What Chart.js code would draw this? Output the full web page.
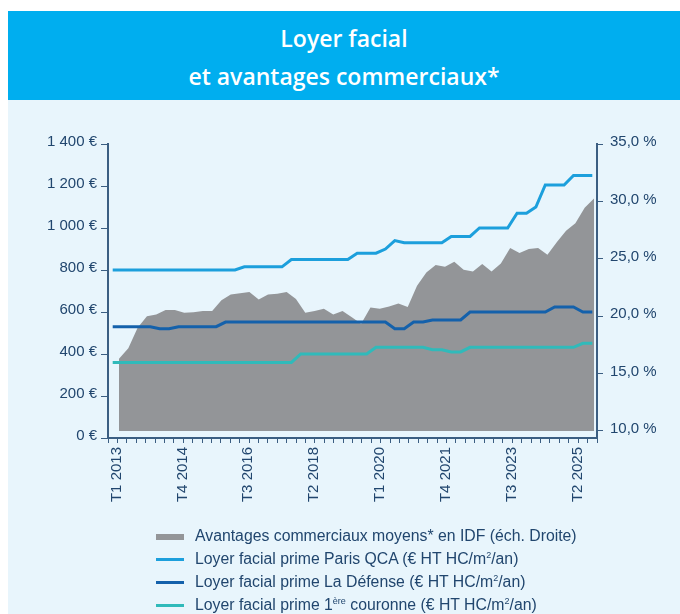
<!DOCTYPE html>
<html lang="fr">
<head>
<meta charset="utf-8">
<title>Loyer facial et avantages commerciaux</title>
<script src="https://cdn.jsdelivr.net/npm/chart.js@4.4.1/dist/chart.umd.min.js"></script>
<style>
  body { margin: 0; background: #fff; }
  #page { position: relative; width: 680px; height: 614px; overflow: hidden; font-family: 'Liberation Sans', Arial, sans-serif; }
  #bandeau { position: absolute; left: 8px; top: 11px; width: 672px; height: 89px; background: #00aeef; }
  .titre { position: absolute; left: 0; width: 100%; text-align: center; color: #fff; font-family: 'Open Sans', sans-serif; font-weight: 600; font-size: 23px; line-height: 30px; }
  #fond { position: absolute; left: 8px; top: 100px; width: 672px; height: 514px; background: #e8f5fc; }
  #graphique { position: absolute; left: 0; top: 0; }
  #legende { position: absolute; left: 156px; top: 524px; color: #21466e; font-size: 15.8px; }
  .ligne { height: 23px; line-height: 23px; white-space: nowrap; }
  .ligne span.marque { display: inline-block; width: 28px; vertical-align: middle; margin-right: 11px; }
  sup { font-size: 9px; vertical-align: 6px; line-height: 0; }
</style>
</head>
<body>
<div id="page">
  <div id="bandeau">
    <div class="titre" style="top: 12px;">Loyer facial</div>
    <div class="titre" style="top: 50px;">et avantages commerciaux*</div>
  </div>
  <div id="fond"></div>
  <canvas id="graphique" width="680" height="614"></canvas>
  <div id="legende"></div>
</div>
<script>
// Trimestres (axe X)
const trimestres = [
  'T1 2013', 'T2 2013', 'T3 2013', 'T4 2013', 'T1 2014', 'T2 2014', 'T3 2014', 'T4 2014',
  'T1 2015', 'T2 2015', 'T3 2015', 'T4 2015', 'T1 2016', 'T2 2016', 'T3 2016', 'T4 2016',
  'T1 2017', 'T2 2017', 'T3 2017', 'T4 2017', 'T1 2018', 'T2 2018', 'T3 2018', 'T4 2018',
  'T1 2019', 'T2 2019', 'T3 2019', 'T4 2019', 'T1 2020', 'T2 2020', 'T3 2020', 'T4 2020',
  'T1 2021', 'T2 2021', 'T3 2021', 'T4 2021', 'T1 2022', 'T2 2022', 'T3 2022', 'T4 2022',
  'T1 2023', 'T2 2023', 'T3 2023', 'T4 2023', 'T1 2024', 'T2 2024', 'T3 2024', 'T4 2024',
  'T1 2025', 'T2 2025', 'T3 2025', 'T4 2025'
];

// Avantages commerciaux moyens en IDF (%, axe droit)
const avantages = [
  16.3, 17.2, 19.0, 20.0, 20.15, 20.55, 20.55, 20.3, 20.35, 20.45, 20.45, 21.4, 21.9,
  22.0, 22.1, 21.45, 21.9, 21.95, 22.1, 21.5, 20.3, 20.45, 20.65, 20.15, 20.45, 19.9,
  19.35, 20.75, 20.65, 20.85, 21.1, 20.8, 22.65, 23.8, 24.45, 24.3, 24.75, 24.05, 23.9,
  24.55, 23.9, 24.6, 25.95, 25.5, 25.85, 25.95, 25.35, 26.45, 27.45, 28.1, 29.45, 30.25
];

// Loyers faciaux prime (€ HT HC/m²/an, axe gauche)
const parisQCA = [
  800, 800, 800, 800, 800, 800, 800, 800, 800, 800, 800, 800, 800, 800,
  815, 815, 815, 815, 815, 850, 850, 850, 850, 850, 850, 850, 880, 880, 880,
  900, 940, 930, 930, 930, 930, 930, 960, 960, 960, 1000, 1000, 1000, 1000,
  1070, 1070, 1100, 1205, 1205, 1205, 1250, 1250, 1250
];
const laDefense = [
  530, 530, 530, 530, 530, 520, 520, 530, 530, 530, 530, 530,
  552, 552, 552, 552, 552, 552, 552, 552, 552, 552, 552, 552, 552, 552, 552, 552, 552, 552,
  520, 520, 552, 552, 562, 562, 562, 562, 600, 600, 600, 600, 600, 600, 600, 600, 600,
  624, 624, 624, 600, 600
];
const premiereCouronne = [
  360, 360, 360, 360, 360, 360, 360, 360, 360, 360, 360, 360, 360, 360, 360, 360, 360, 360, 360, 360,
  400, 400, 400, 400, 400, 400, 400, 400, 432, 432, 432, 432, 432, 432, 420, 420, 410, 410,
  432, 432, 432, 432, 432, 432, 432, 432, 432, 432, 432, 432, 451, 451
];

const ticksGauche = [0, 200, 400, 600, 800, 1000, 1200, 1400];
const ticksDroite = [10, 15, 20, 25, 30, 35];

// Libellés de la légende (HTML pour les exposants)
const libelles = [
  'Avantages commerciaux moyens* en IDF (éch. Droite)',
  'Loyer facial prime Paris QCA (€ HT HC/m<sup>2</sup>/an)',
  'Loyer facial prime La Défense (€ HT HC/m<sup>2</sup>/an)',
  'Loyer facial prime 1<sup>ère</sup> couronne (€ HT HC/m<sup>2</sup>/an)'
];
const couleurs = ['#939598', '#1c9fdc', '#1461ab', '#30baba'];

const couleurAxe = '#3b5e82';
const couleurTexte = '#21466e';

Chart.defaults.font.family = "'Liberation Sans', Arial, sans-serif";
Chart.defaults.font.size = 15;
Chart.defaults.color = couleurTexte;

function euros(v) {
  return String(v).replace(/\B(?=(\d{3})+(?!\d))/g, ' ') + ' €';
}

const ligne = (i, data) => ({
  label: libelles[i].replace(/<\/?sup>/g, ''),
  data: data,
  borderColor: couleurs[i],
  borderWidth: 3,
  pointRadius: 0,
  tension: 0,
  fill: false,
  xAxisID: 'x',
  yAxisID: 'y',
  order: 0
});

new Chart(document.getElementById('graphique'), {
  type: 'line',
  data: {
    labels: trimestres,
    datasets: [
      ligne(1, parisQCA),
      ligne(2, laDefense),
      ligne(3, premiereCouronne),
      {
        label: libelles[0],
        data: avantages.map((v, i) => ({ x: i, y: v })),
        backgroundColor: couleurs[0],
        borderWidth: 0,
        pointRadius: 0,
        fill: { value: 10 },
        xAxisID: 'x2',
        yAxisID: 'y2',
        order: 1
      }
    ]
  },
  options: {
    responsive: false,
    animation: false,
    layout: { padding: { top: 144, left: 0, right: 0, bottom: 0 } },
    plugins: {
      legend: { display: false },
      tooltip: { enabled: false }
    },
    scales: {
      x: {
        type: 'category',
        offset: true,
        grid: { offset: true, drawOnChartArea: false, tickLength: 5, color: couleurAxe },
        border: { display: true, color: couleurAxe, width: 2 },
        ticks: {
          autoSkip: false,
          minRotation: 90,
          maxRotation: 90,
          padding: 4,
          labelOffset: 4,
          callback: (v, i) => (i % 7 === 0 ? trimestres[i] : '')
        },
        afterFit: s => { s.height = 614 - 438; }
      },
      x2: {
        type: 'linear',
        display: false,
        min: -1.181,
        max: 51.322
      },
      y: {
        position: 'left',
        min: 0,
        max: 1400,
        grid: { drawOnChartArea: false, tickLength: 7, color: couleurAxe },
        border: { display: true, color: couleurAxe, width: 2 },
        ticks: { padding: 4, labelOffset: -2, callback: v => euros(v) },
        afterBuildTicks: a => { a.ticks = ticksGauche.map(v => ({ value: v })); },
        afterFit: s => { s.width = 108; }
      },
      y2: {
        position: 'right',
        min: 9.39,
        max: 35,
        grid: { drawOnChartArea: false, tickLength: 6, color: couleurAxe },
        border: { display: true, color: couleurAxe, width: 2 },
        ticks: { padding: 7, labelOffset: -2, callback: v => v.toFixed(1).replace('.', ',') + ' %' },
        afterBuildTicks: a => { a.ticks = ticksDroite.map(v => ({ value: v })); },
        afterFit: s => { s.width = 680 - 597; }
      }
    }
  }
});

// Légende HTML : aire grise puis les trois lignes
const legende = document.getElementById('legende');
libelles.forEach((txt, i) => {
  const hauteur = i === 0 ? 6 : 3;
  legende.insertAdjacentHTML('beforeend',
    '<div class="ligne"><span class="marque" style="height:' + hauteur + 'px;background:' + couleurs[i] + '"></span>' + txt + '</div>');
});
</script>
</body>
</html>
